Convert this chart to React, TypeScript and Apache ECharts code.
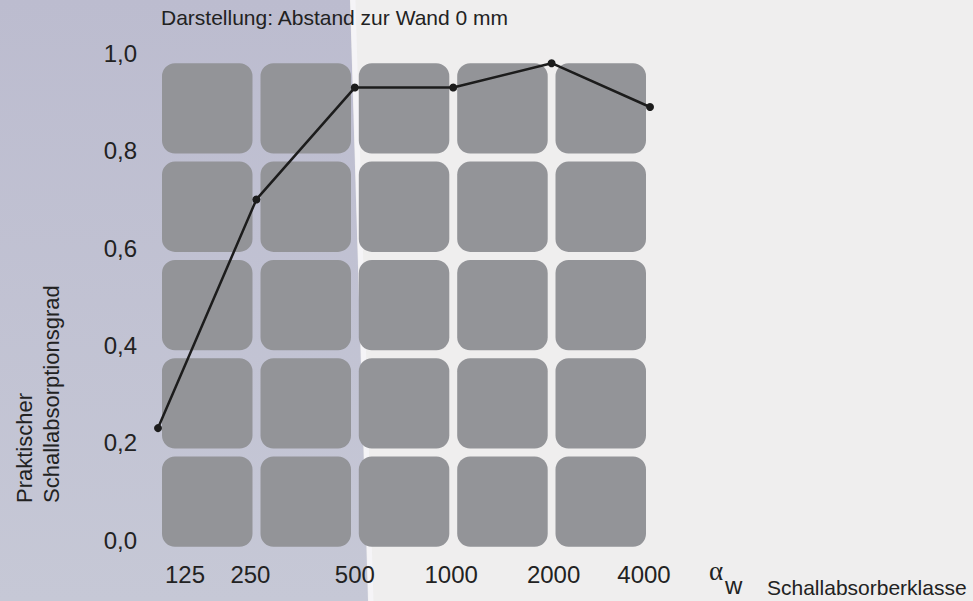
import React, { useEffect, useRef } from "react";
import * as echarts from "echarts";

const frequencies = ["125", "250", "500", "1000", "2000", "4000"];
const absorption = [0.23, 0.7, 0.93, 0.93, 0.98, 0.89];
const yTicks = [0, 0.2, 0.4, 0.6, 0.8, 1.0];
const titleText = "Darstellung: Abstand zur Wand 0 mm";
const yName = "Praktischer\nSchallabsorptionsgrad";
const xName = "Schallabsorberklasse";
// horizontal shift of each x label relative to its point (px)
const labelShift = [27, -6, 0, -2, 2, -6];

const FONT = "Liberation Sans, Arial, Helvetica, sans-serif";
const W = 973;
const H = 601;

export default function App() {
  const ref = useRef<HTMLDivElement>(null);

  useEffect(() => {
    document.body.style.margin = "0";
    if (!ref.current) return;
    const chart = echarts.init(ref.current, undefined, { renderer: "svg" });

    // decorative rounded squares background
    const colX = [162, 260.5, 358.8, 457.2, 555.5];
    const rowY = [63.3, 161.6, 259.9, 358.2, 456.5];
    const squares: any[] = [];
    rowY.forEach((y) =>
      colX.forEach((x) =>
        squares.push({
          type: "rect",
          z: -5,
          shape: { x, y, width: 90.5, height: 90.3, r: 13 },
          style: { fill: "#939498" },
          silent: true,
        })
      )
    );

    const rich: any = {};
    labelShift.forEach((s, i) => {
      rich["p" + i] = {
        fontSize: 24,
        fontFamily: FONT,
        color: "#222",
        padding: s >= 0 ? [0, 0, 0, 2 * s] : [0, -2 * s, 0, 0],
      };
    });

    chart.setOption({
      animation: false,
      backgroundColor: "#efeeee",
      grid: { left: 158, right: W - 650, top: 53.5, bottom: H - 540, containLabel: false },
      graphic: [
        {
          type: "polygon",
          z: -10,
          silent: true,
          shape: { points: [[0, 0], [350, 0], [368, H], [0, H]] },
          style: {
            fill: new echarts.graphic.LinearGradient(0, 0, 0, 1, [
              { offset: 0, color: "#bcbccf" },
              { offset: 1, color: "#c6c8d6" },
            ]),
          },
        },
        {
          type: "line",
          z: -9,
          silent: true,
          shape: { x1: 353, y1: 0, x2: 371, y2: H },
          style: { stroke: "#f5f4f7", lineWidth: 5, opacity: 0.9 },
        },
        ...squares,
        {
          type: "text",
          left: 161,
          top: 7,
          style: { text: titleText, fontSize: 21, fontFamily: FONT, fill: "#222" },
        },
        {
          type: "text",
          x: 38,
          y: 503,
          rotation: Math.PI / 2,
          style: {
            text: yName,
            fontSize: 22,
            lineHeight: 27,
            fontFamily: FONT,
            fill: "#222",
            align: "left",
            verticalAlign: "middle",
          },
        },
        {
          type: "text",
          x: 709,
          y: 571,
          style: {
            text: "α",
            fontSize: 27,
            fontFamily: "Liberation Serif, Times New Roman, serif",
            fill: "#222",
            align: "left",
            verticalAlign: "middle",
          },
        },
        {
          type: "text",
          x: 725,
          y: 585,
          style: {
            text: "w",
            fontSize: 24,
            fontFamily: FONT,
            fill: "#222",
            align: "left",
            verticalAlign: "middle",
          },
        },
        {
          type: "text",
          x: 767,
          y: 587,
          style: {
            text: xName,
            fontSize: 21,
            fontFamily: FONT,
            fill: "#222",
            align: "left",
            verticalAlign: "middle",
          },
        },
      ],
      xAxis: {
        type: "category",
        data: frequencies,
        boundaryGap: false,
        axisLine: { show: false },
        axisTick: { show: false },
        splitLine: { show: false },
        axisLabel: {
          margin: 22,
          interval: 0,
          formatter: (v: string, i: number) => `{p${i}|${v}}`,
          rich,
        },
      },
      yAxis: {
        type: "value",
        min: yTicks[0],
        max: yTicks[yTicks.length - 1],
        interval: 0.2,
        axisLine: { show: false },
        axisTick: { show: false },
        splitLine: { show: false },
        axisLabel: {
          margin: 21,
          fontSize: 24,
          fontFamily: FONT,
          color: "#222",
          formatter: (v: number) => v.toFixed(1).replace(".", ","),
        },
      },
      series: [
        {
          type: "line",
          data: absorption,
          symbol: "circle",
          symbolSize: 8,
          lineStyle: { color: "#1c1c1c", width: 2.5 },
          itemStyle: { color: "#1c1c1c" },
          z: 5,
        },
      ],
    });

    return () => chart.dispose();
  }, []);

  return <div ref={ref} style={{ width: W, height: H }} />;
}
